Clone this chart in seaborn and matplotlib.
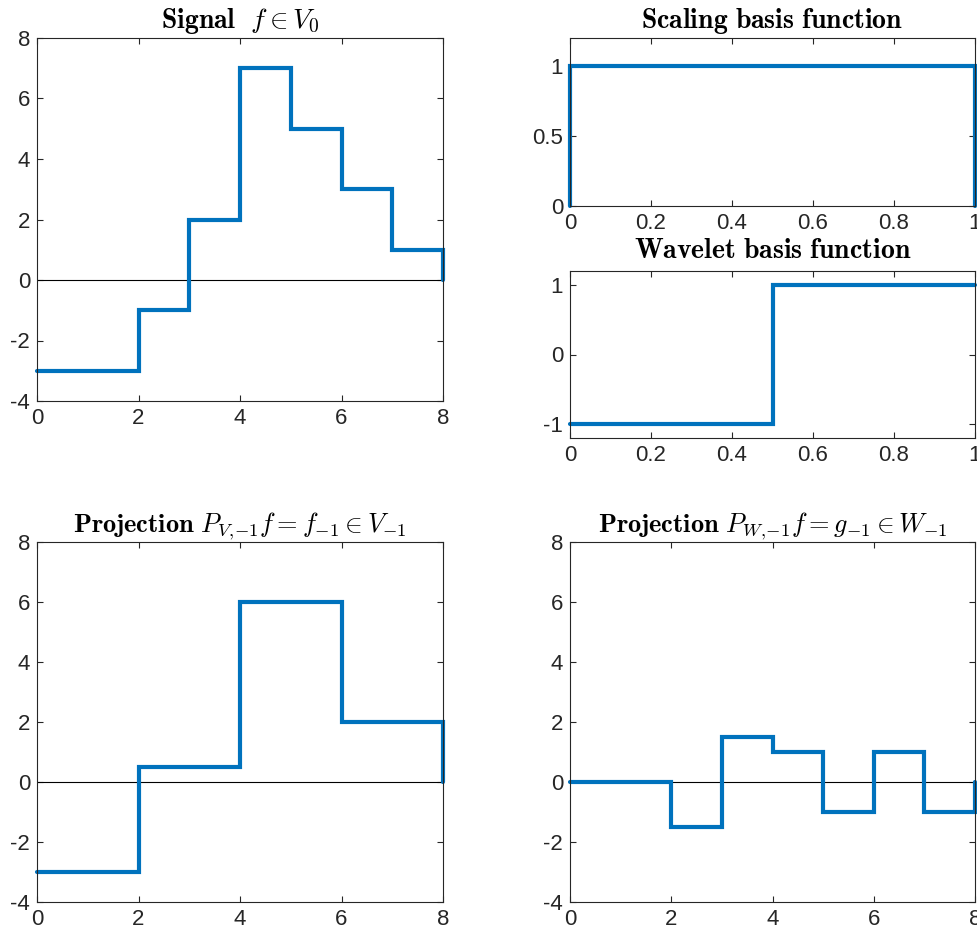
import numpy as np
import pandas as pd
import matplotlib
matplotlib.use("Agg")
import matplotlib.pyplot as plt
from matplotlib.ticker import FuncFormatter
import seaborn as sns

# ---- data ----
signal_vals = [-3, -3, -1, 2, 7, 5, 3, 1]
proj_v_vals = [-3, -3, 0.5, 0.5, 6, 6, 2, 2]
proj_w_vals = [0, 0, -1.5, 1.5, 1, -1, 1, -1]
unit_edges = [0, 1, 2, 3, 4, 5, 6, 7, 8]
scaling_x = [0, 0, 1, 1]
scaling_y = [0, 1, 1, 0]
wavelet_x = [0, 0.5, 0.5, 1]
wavelet_y = [-1, -1, 1, 1]

titles = [r"$\mathbf{Signal}\ \ f \in V_0$",
          r"$\mathbf{Scaling\ basis\ function}$",
          r"$\mathbf{Wavelet\ basis\ function}$",
          r"$\mathbf{Projection}\ P_{V,\!{-1}}f = f_{{-1}} \in V_{{-1}}$",
          r"$\mathbf{Projection}\ P_{W,\!{-1}}f = g_{{-1}} \in W_{{-1}}$"]

sns.set_theme(style="ticks")
plt.rcParams["font.family"] = ["Liberation Sans", "DejaVu Sans"]
plt.rcParams["mathtext.fontset"] = "cm"
plt.rcParams["axes.unicode_minus"] = False

BLUE = "#0072BD"
DARK = "#262626"


def step_df(vals, edges):
    xs, ys = [], []
    for i, v in enumerate(vals):
        xs += [edges[i], edges[i + 1]]
        ys += [v, v]
    xs.append(edges[-1])
    ys.append(0)
    return pd.DataFrame({"x": xs, "y": ys, "o": range(len(xs))})


W, H = 977, 939
fig = plt.figure(figsize=(W / 100, H / 100), dpi=100)


def pos(l, t, r, b):
    return [l / W, 1 - b / H, (r - l) / W, (b - t) / H]


ax1 = fig.add_axes(pos(37, 38, 443, 401))
ax2 = fig.add_axes(pos(570, 38, 975, 206))
ax3 = fig.add_axes(pos(570, 271, 975, 438))
ax4 = fig.add_axes(pos(37, 542, 443, 902))
ax5 = fig.add_axes(pos(570, 542, 975, 902))

fmt = FuncFormatter(lambda v, p: f"{v:g}")


def style(ax, title, xlim, ylim, xt, yt, tpad=7, tsize=20):
    ax.set_xlim(*xlim)
    ax.set_ylim(*ylim)
    ax.set_xticks(xt)
    ax.set_yticks(yt)
    ax.xaxis.set_major_formatter(fmt)
    ax.yaxis.set_major_formatter(fmt)
    ax.set_xlabel("")
    ax.set_ylabel("")
    for s in ax.spines.values():
        s.set_visible(True)
        s.set_color(DARK)
        s.set_linewidth(0.8)
    ax.tick_params(direction="in", length=4, width=0.8, colors=DARK,
                   labelsize=16, top=True, right=True, pad=5,
                   labelcolor=DARK)
    ax.set_title(title, fontsize=tsize, color="black", pad=tpad)


def zero_line(ax, xlim):
    sns.lineplot(x=list(xlim), y=[0, 0], ax=ax, color="black", lw=0.8,
                 estimator=None, sort=False)


# Signal
zero_line(ax1, (0, 8))
d = step_df(signal_vals, unit_edges)
sns.lineplot(data=d, x="x", y="y", ax=ax1, color=BLUE, lw=3,
             estimator=None, sort=False)
style(ax1, titles[0], (0, 8), (-4, 8), [0, 2, 4, 6, 8], range(-4, 9, 2))

# Scaling
sns.lineplot(x=scaling_x, y=scaling_y, ax=ax2, color=BLUE, lw=3,
             estimator=None, sort=False)
style(ax2, titles[1], (0, 1), (0, 1.2), [0, 0.2, 0.4, 0.6, 0.8, 1],
      [0, 0.5, 1])

# Wavelet
sns.lineplot(x=wavelet_x, y=wavelet_y, ax=ax3, color=BLUE, lw=3,
             estimator=None, sort=False)
style(ax3, titles[2], (0, 1), (-1.2, 1.2), [0, 0.2, 0.4, 0.6, 0.8, 1],
      [-1, 0, 1], tpad=9)

# Projection V
zero_line(ax4, (0, 8))
d = step_df(proj_v_vals, unit_edges)
sns.lineplot(data=d, x="x", y="y", ax=ax4, color=BLUE, lw=3,
             estimator=None, sort=False)
style(ax4, titles[3], (0, 8), (-4, 8), [0, 2, 4, 6, 8], range(-4, 9, 2),
      tsize=19)

# Projection W
zero_line(ax5, (0, 8))
d = step_df(proj_w_vals, unit_edges)
sns.lineplot(data=d, x="x", y="y", ax=ax5, color=BLUE, lw=3,
             estimator=None, sort=False)
style(ax5, titles[4], (0, 8), (-4, 8), [0, 2, 4, 6, 8], range(-4, 9, 2),
      tsize=19)

for ax in [ax1, ax2, ax3, ax4, ax5]:
    for ln in ax.lines:
        ln.set_clip_on(False)
        ln.set_solid_joinstyle("miter")

fig.savefig("out.png", dpi=100)
